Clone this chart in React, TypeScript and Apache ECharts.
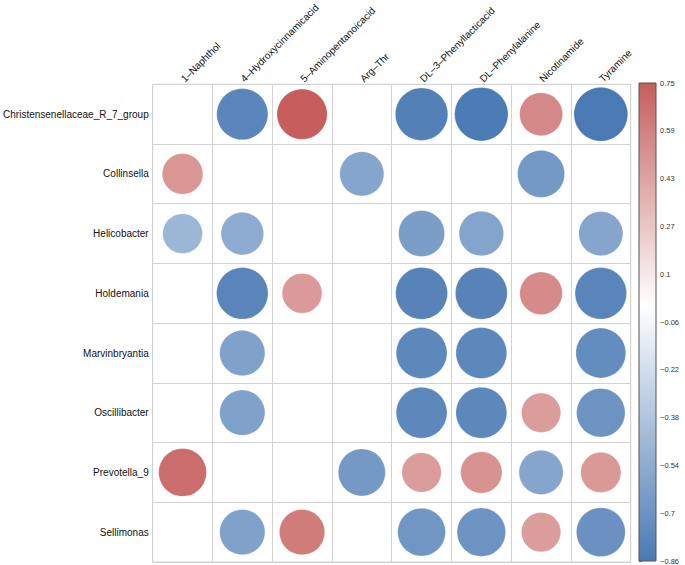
import React, { useEffect, useRef } from "react";
import * as echarts from "echarts";

const rowNames = [
  "Christensenellaceae_R_7_group",
  "Collinsella",
  "Helicobacter",
  "Holdemania",
  "Marvinbryantia",
  "Oscillibacter",
  "Prevotella_9",
  "Sellimonas",
];

const colNames = [
  "1–Naphthol",
  "4–Hydroxycinnamicacid",
  "5–Aminopentanoicacid",
  "Arg–Thr",
  "DL–3–Phenyllacticacid",
  "DL–Phenylalanine",
  "Nicotinamide",
  "Tyramine",
];

// one array per row (null = blank cell)
const christensenellaceae = [null, -0.78, 0.75, null, -0.82, -0.85, 0.55, -0.86];
const collinsella = [0.49, null, null, -0.58, null, null, -0.66, null];
const helicobacter = [-0.47, -0.54, null, null, -0.63, -0.59, null, -0.58];
const holdemania = [null, -0.79, 0.47, null, -0.8, -0.8, 0.54, -0.79];
const marvinbryantia = [null, -0.61, null, null, -0.77, -0.77, null, -0.74];
const oscillibacter = [null, -0.61, null, null, -0.77, -0.77, 0.46, -0.7];
const prevotella9 = [0.68, null, null, -0.66, 0.46, 0.51, -0.58, 0.48];
const sellimonas = [null, -0.61, 0.61, null, -0.68, -0.7, 0.46, -0.71];

const rowValues = [
  christensenellaceae,
  collinsella,
  helicobacter,
  holdemania,
  marvinbryantia,
  oscillibacter,
  prevotella9,
  sellimonas,
];

// colour bar tick labels, bottom to top
const colorbarLabels = ["−0.86", "−0.7", "−0.54", "−0.38", "−0.22", "−0.06", "0.1", "0.27", "0.43", "0.59", "0.75"];
const valueMin = -0.86;
const valueMax = 0.75;

const NEG = [74, 122, 180];
const POS = [197, 94, 93];

function colorFor(v: number): string {
  let c: number[];
  let t: number;
  if (v < 0) {
    c = NEG;
    t = Math.min(1, v / valueMin);
  } else {
    c = POS;
    t = Math.min(1, v / valueMax);
  }
  const r = Math.round(255 + (c[0] - 255) * t);
  const g = Math.round(255 + (c[1] - 255) * t);
  const b = Math.round(255 + (c[2] - 255) * t);
  return `rgb(${r},${g},${b})`;
}

const FONT = "'Liberation Sans', Arial, Helvetica, sans-serif";

export default function App() {
  const ref = useRef<HTMLDivElement>(null);

  useEffect(() => {
    if (!ref.current) return;
    const chart = echarts.init(ref.current, null, { renderer: "svg" });

    const data: any[] = [];
    rowValues.forEach((row, ri) => {
      row.forEach((v, ci) => {
        if (v !== null) data.push([ci, ri, v]);
      });
    });

    const gridLeft = 152.7;
    const gridTop = 83;
    const gridW = 478;
    const gridH = 479;
    const cell = gridW / colNames.length;
    const maxAbs = Math.max(Math.abs(valueMin), Math.abs(valueMax));

    const span = valueMax - valueMin;
    const gradStops = [
      { offset: 0, color: colorFor(valueMax) },
      { offset: valueMax / span, color: "#ffffff" },
      { offset: 1, color: colorFor(valueMin) },
    ];

    chart.setOption({
      animation: false,
      backgroundColor: "#ffffff",
      textStyle: { fontFamily: FONT },
      grid: [
        {
          left: gridLeft,
          top: gridTop,
          width: gridW,
          height: gridH,
          show: true,
          borderColor: "#d2d2d2",
          borderWidth: 1,
        },
        { left: 639, top: 83, width: 17, height: 479 },
      ],
      xAxis: [
        {
          gridIndex: 0,
          type: "category",
          data: colNames,
          position: "top",
          boundaryGap: true,
          axisLine: { show: false },
          axisTick: { show: false },
          splitLine: { show: true, interval: 0, lineStyle: { color: "#d2d2d2", width: 1 } },
          axisLabel: {
            interval: 0,
            rotate: -45,
            margin: 4,
            fontSize: 10,
            color: "#111",
            fontFamily: FONT,
          },
        },
        { gridIndex: 1, type: "value", min: 0, max: 1, show: false },
      ],
      yAxis: [
        {
          gridIndex: 0,
          type: "category",
          data: rowNames,
          inverse: true,
          boundaryGap: true,
          axisLine: { show: false },
          axisTick: { show: false },
          splitLine: { show: true, interval: 0, lineStyle: { color: "#d2d2d2", width: 1 } },
          axisLabel: {
            interval: 0,
            margin: 4,
            fontSize: 10,
            color: "#111",
            fontFamily: FONT,
          },
        },
        {
          gridIndex: 1,
          type: "value",
          min: 0,
          max: colorbarLabels.length - 1,
          interval: 1,
          position: "right",
          axisLine: { show: false },
          splitLine: { show: false },
          axisTick: { show: true, length: 3, lineStyle: { color: "#777" } },
          axisLabel: {
            margin: 4,
            fontSize: 7.5,
            color: "#333",
            fontFamily: FONT,
            formatter: (v: number) => colorbarLabels[Math.round(v)] ?? "",
          },
        },
      ],
      series: [
        {
          type: "scatter",
          xAxisIndex: 0,
          yAxisIndex: 0,
          data,
          symbol: "circle",
          symbolSize: (val: number[]) => cell * 0.9 * Math.sqrt(Math.abs(val[2]) / maxAbs),
          itemStyle: {
            opacity: 1,
            color: (p: any) => colorFor(p.value[2]),
            borderColor: "rgba(255,255,255,0.5)",
            borderWidth: 0.5,
          },
          emphasis: { disabled: true },
        },
        {
          type: "custom",
          xAxisIndex: 1,
          yAxisIndex: 1,
          data: [[0, 0]],
          silent: true,
          renderItem: (params: any) => {
            const cs = params.coordSys;
            return {
              type: "rect",
              shape: { x: cs.x, y: cs.y, width: cs.width, height: cs.height },
              style: {
                fill: new echarts.graphic.LinearGradient(0, 0, 0, 1, gradStops),
                stroke: "#555",
                lineWidth: 1,
              },
            };
          },
        },
      ],
    });

    return () => chart.dispose();
  }, []);

  return (
    <div
      ref={ref}
      style={{ position: "fixed", left: 0, top: 0, width: 685, height: 565, background: "#fff" }}
    />
  );
}
